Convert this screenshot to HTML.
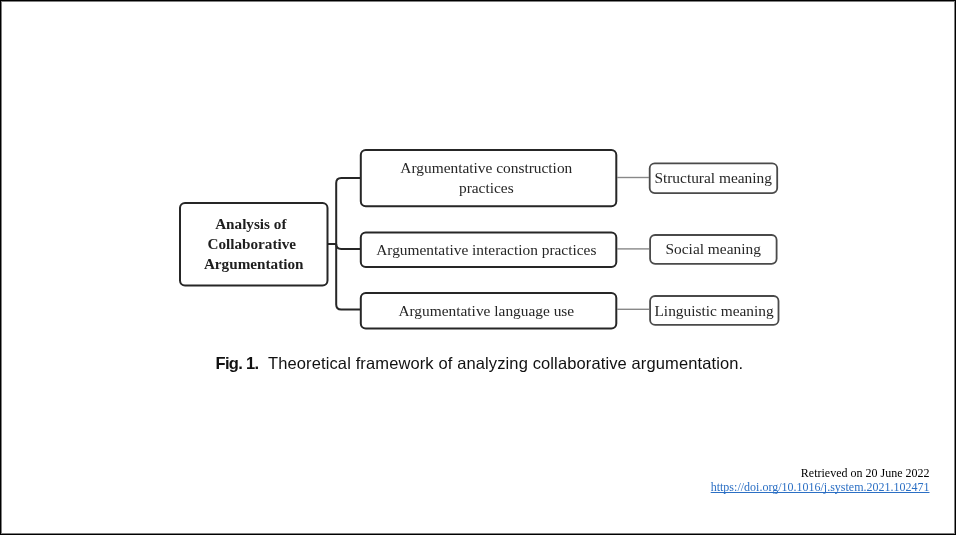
<!DOCTYPE html>
<html><head><meta charset="utf-8">
<style>
html,body{margin:0;padding:0;}
body{width:956px;height:535px;position:relative;overflow:hidden;background:#fff;}
.frame{position:absolute;left:0;top:0;width:956px;height:535px;box-sizing:border-box;border:1px solid #000;box-shadow:inset 0 0 0 1px #808080;}
svg{position:absolute;left:0;top:0;}
#wrap{position:absolute;left:0;top:0;width:956px;height:535px;background:#fff;will-change:transform;}
.t{position:absolute;white-space:nowrap;font-family:"Liberation Serif",serif;color:#262626;font-size:15.4px;line-height:20px;text-align:center;}
.b{font-weight:bold;color:#1e1e1e;font-size:15.2px;}
.cap{position:absolute;top:354px;line-height:18px;font-family:"Liberation Sans",sans-serif;font-size:16.5px;color:#111;white-space:nowrap;}
.ret{position:absolute;right:26.5px;font-family:"Liberation Serif",serif;font-size:12px;line-height:14px;white-space:nowrap;}
</style></head><body>
<div id="wrap">
<div class="frame"></div>

<svg width="956" height="535">
  <g fill="none" stroke="#262626" stroke-width="2">
    <rect x="180" y="203" width="147.5" height="82.6" rx="5"/>
    <rect x="360.8" y="150" width="255.5" height="56.2" rx="5"/>
    <rect x="360.8" y="232.4" width="255.5" height="34.6" rx="5"/>
    <rect x="360.8" y="293" width="255.5" height="35.4" rx="5"/>
    <path d="M328 244 H336.2"/>
    <path d="M361 178 H341.2 Q336.2 178 336.2 183 V304.5 Q336.2 309.5 341.2 309.5 H361"/>
    <path d="M336.2 244 Q336.2 248.9 341.2 248.9 H361"/>
  </g>
  <g fill="none" stroke="#4a4a4a" stroke-width="1.8">
    <rect x="649.7" y="163.3" width="127.5" height="29.8" rx="5"/>
    <rect x="650.1" y="235" width="126.5" height="28.8" rx="5"/>
    <rect x="650.1" y="296" width="128.4" height="28.9" rx="5"/>
  </g>
  <g fill="none" stroke="#888" stroke-width="1.4">
    <path d="M617 177.5 H649"/>
    <path d="M617 248.9 H649"/>
    <path d="M617 309.3 H649"/>
  </g>
</svg>

<!-- left main box text: baselines 229, 249.3, 268.9 -->
<div class="t b" style="left:102.7px;top:213.9px;width:300px;">Analysis of&nbsp;</div>
<div class="t b" style="left:103.7px;top:234.2px;width:300px;">Collaborative&nbsp;</div>
<div class="t b" style="left:103.7px;top:253.8px;width:300px;">Argumentation</div>

<!-- middle boxes -->
<div class="t" style="left:336.3px;top:157.8px;width:300px;">Argumentative construction</div>
<div class="t" style="left:336.3px;top:178.1px;width:300px;">practices</div>
<div class="t" style="left:336.3px;top:239.5px;width:300px;">Argumentative interaction practices</div>
<div class="t" style="left:336.3px;top:300.8px;width:300px;">Argumentative language use</div>

<!-- right boxes -->
<div class="t" style="left:563.2px;top:167.9px;width:300px;">Structural meaning</div>
<div class="t" style="left:563.2px;top:239.2px;width:300px;">Social meaning</div>
<div class="t" style="left:564.1px;top:300.6px;width:300px;">Linguistic meaning</div>

<div class="cap" style="left:215.5px;font-weight:bold;letter-spacing:-0.7px;">Fig. 1.</div>
<div class="cap" style="left:268px;letter-spacing:0.12px;">Theoretical framework of analyzing collaborative argumentation.</div>

<div class="ret" style="top:466px;color:#000;">Retrieved on 20 June 2022</div>
<div class="ret" style="top:479.7px;color:#2b6fc4;text-decoration:underline;text-decoration-skip-ink:none;">https://doi.org/10.1016/j.system.2021.102471</div>
</div>
</body></html>
